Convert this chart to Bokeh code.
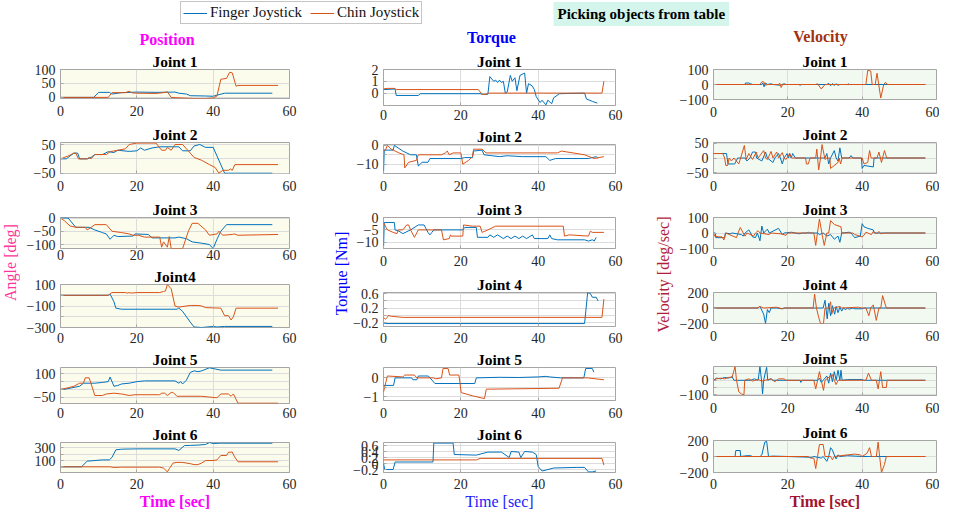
import math
from bokeh.plotting import figure
from bokeh.models import Range1d, FixedTicker, Label, Legend, LegendItem
from bokeh.layouts import column, row
from bokeh.embed import file_html
from bokeh.resources import INLINE

BLUE = "#0072BD"
ORANGE = "#D95319"
FONT = "Liberation Serif"
TICK_COLOR = "#262626"
GRID = "#dcdcdc"
BOX = "#a6a6a6"
LW = 1.0

TIME_TICKS = [0, 20, 40, 60]
TIME_LIMITS = (0, 60)
LEGEND_LABELS = ["Finger Joystick", "Chin Joystick"]

# ---------------- Position [deg] : (time, value) pairs ----------------
pos_j1_finger = [(0, 0), (8.7, 0), (10, 18), (12.8, 18), (13.5, 12), (16, 17), (20, 19), (25, 18), (30, 19),
                 (31, 15), (33, 12), (34, 6), (38, 5), (40, 4), (41, 8), (43, 15), (55.5, 15)]
pos_j1_chin = [(0, 0), (12.5, 0), (13.5, 17), (17, 17), (18, 22), (18.8, 16), (20, 15), (25, 14), (27, 17),
               (28, 20), (29, 0), (30, -1), (35, -4), (38, -4), (40, -2), (41, 5), (42, 65), (43.5, 68),
               (44.3, 90), (45, 88), (46, 40), (46.5, 43), (57, 43)]
pos_j2_finger = [(0, 0), (1.5, 0), (3.5, 20), (4.5, 20), (5, 0), (7, 0), (8, 5), (9, 15), (11, 15), (12.5, 25),
                 (14, 22), (15, 30), (18, 26), (20, 28), (21, 38), (22, 30), (24, 38), (26, 42), (31, 42),
                 (32, 28), (34, 28), (35, 45), (36.5, 50), (38, 40), (40, 40), (43, -50), (55.5, -50)]
pos_j2_chin = [(0, 0), (2, 10), (3.5, 20), (4, 20), (4.7, 0), (7, 0), (7.5, 5), (8, 0), (9, 15), (12, 15),
               (13, 25), (15, 30), (17, 35), (18, 50), (20, 55), (25, 55), (26.5, 30), (27.5, 30), (28, 40),
               (29, 30), (30, 50), (32, 50), (34, 20), (35, 5), (37, -5), (39, -20), (40.5, -30), (41.5, -50),
               (42.5, -40), (44, -40), (44.5, -35), (45, -40), (45.7, -20), (57, -20)]
pos_j3_finger = [(0, 0), (2, 0), (4, -35), (7.5, -35), (9, -45), (11, -55), (12, -60), (13, -80), (14, -65),
                 (15, -70), (19, -68), (19.5, -60), (23, -62), (24, -75), (30, -75), (31, -72), (33, -78),
                 (34.5, -90), (37, -95), (39, -100), (40, -115), (41, -80), (42, -50), (43.5, -25), (55.5, -25)]
pos_j3_chin = [(0, 0), (1, -10), (2.5, -30), (4, -35), (6.5, -35), (7, -45), (8, -35), (9, -25), (12, -25),
               (13.5, -50), (16, -55), (18, -60), (19, -65), (20.5, -65), (22, -72), (26, -72), (26.5, -110),
               (27, -90), (28, -110), (28.5, -70), (29, -115), (32, -115), (33.5, -50), (34.5, -20), (36, -20),
               (38, -45), (39, -65), (41, -60), (41.5, -50), (42.5, -65), (45, -62), (45.5, -60), (46.5, -65),
               (57, -62)]
pos_j4_finger = [(0, 0), (12.5, 0), (13, 10), (14, -60), (14.5, -120), (16, -130), (30.5, -130), (31, -120),
                 (32, -150), (34, -250), (35, -295), (37, -300), (40, -290), (41, -295), (43, -290), (55.5, -290)]
pos_j4_chin = [(0, 0), (12.5, 0), (13.5, 25), (17, 25), (17.5, 20), (18, 25), (18.5, 20), (20, 25), (26, 25),
               (27, 35), (27.5, 40), (28, 100), (29, 60), (30, -100), (31, -110), (34, -95), (36, -95),
               (37, -100), (38, -115), (42, -120), (43, -190), (44, -190), (44.7, -230), (45.3, -200),
               (46, -120), (57, -120)]
pos_j5_finger = [(0, 0), (1, 0), (3, 10), (5, 20), (6, 40), (9, 40), (11, 45), (12.5, 50), (13, 80), (14, 20),
                 (15, 25), (16, 35), (18, 40), (20, 50), (22, 55), (30, 55), (31, 40), (31.5, 50), (32, 35),
                 (33, 60), (34, 110), (35, 120), (36, 115), (37, 120), (39, 140), (41, 130), (42, 125), (55.5, 125)]
pos_j5_chin = [(0, 0), (2, 10), (3.5, 20), (5, 40), (6, 40), (6.5, 75), (7.5, 75), (9, -40), (11, -40),
               (12, -30), (14, -25), (16, -30), (18, -40), (19.5, -35), (26, -35), (26.5, -25), (27.3, -25),
               (28, -40), (29, -20), (29.5, -20), (30.5, -45), (37, -45), (39, -50), (41, -55), (42, -30),
               (44, -30), (44.7, -45), (45.3, -30), (46.5, -90), (57, -90)]
pos_j6_finger = [(0, 0), (5.5, 0), (7, 90), (9, 100), (11, 110), (12.8, 110), (13.5, 150), (14.5, 270), (16, 280),
                 (20, 285), (30, 285), (31, 260), (32.5, 338), (34, 340), (36, 345), (38, 355), (39, 385),
                 (40, 370), (42, 375), (55.5, 375)]
pos_j6_chin = [(0, 0), (13, 0), (14, -10), (16, -5), (26, -5), (27, -20), (28, -80), (28.5, -30), (29.5, 60),
               (30.5, 70), (32, 70), (34, 50), (35, 35), (36, 35), (37, 60), (38, 100), (40, 100), (41, 110),
               (42, 180), (43.5, 180), (44, 230), (45, 235), (45.5, 170), (46.5, 80), (57, 80)]

# ---------------- Torque [Nm] ----------------
tor_j1_finger = [(0, 0.3), (3, 0.35), (3.3, -0.2), (9, -0.2), (9.5, -0.05), (25, -0.05), (25.5, -0.1), (27, -0.1),
                 (27.5, 1.4), (28.5, 1.0), (29, 1.1), (29.5, 0.9), (30, 1.1), (30.5, 0.9), (31, 1.0), (31.5, 0),
                 (32, 0.1), (32.8, 1.5), (33.3, 1.0), (34, 1.3), (34.5, 0.2), (35.3, 1.5), (36.5, 1.7), (37, 0),
                 (37.5, 0.8), (38.5, 0.6), (39, 0.3), (39.5, -0.3), (40.5, -0.8), (41, -0.6), (42, -1.0),
                 (42.5, -0.6), (43.5, -0.9), (44, -0.4), (45.5, -0.05), (52, 0), (52.5, -0.5), (54, -0.7),
                 (55.3, -0.85)]
tor_j1_chin = [(0, 0.35), (1, 0.4), (3, 0.4), (3.3, 0.3), (24.5, 0.3), (25.5, -0.1), (26.5, -0.1), (27, 0),
               (56.5, 0), (57, 1.0)]
tor_j2_finger = [(0, -15), (0.2, -2.5), (2.5, -2.5), (2.8, 0), (5, -3), (7, -5), (8.5, -5), (9, -11), (10, -9),
                 (11.5, -9), (12, -7), (20, -7), (21, -6.5), (23, -6.5), (23.3, -3), (25.5, -2.5), (26, -5),
                 (28, -5.5), (30, -6), (32, -5.5), (36, -6), (42, -6), (43, -8), (44.5, -7), (53, -7), (55, -6),
                 (55.5, -7)]
tor_j2_chin = [(0, -2.5), (0.5, -2.5), (1, 0), (2, -2), (4, -4), (5.3, -5), (5.5, -12), (6.5, -9), (8.5, -8),
               (9, -5), (15, -5), (16, -4), (16.5, -3), (17, -5), (18, -4), (20, -4), (20.5, -10), (22, -8),
               (23, -6), (23.3, -2), (25.5, -2), (26.5, -4), (45, -4), (46, -3), (52, -5), (54.5, -7), (57, -6)]
tor_j3_finger = [(0, -12.5), (0.2, -2), (2.8, -2), (3, -5), (4, -5.5), (5, -6.5), (7, -5), (9, -3), (10.5, -3),
                 (11.5, -6), (12, -7), (12.5, -6), (13, -5), (20.5, -5), (21, -4), (24, -4), (24.3, -8), (27, -8),
                 (27.5, -7), (28.5, -8), (29.5, -7), (31, -8.5), (32, -7.5), (33, -8.5), (34, -7.5), (35, -8.5),
                 (36, -7.5), (37, -8.5), (38.5, -7), (39, -8.5), (42.5, -8.5), (43, -7), (43.5, -8.5), (45, -9),
                 (52, -9), (53, -9.5), (54, -9), (54.5, -9.5), (55, -8)]
tor_j3_chin = [(0, -2), (0.5, -3.5), (1, -5), (2.5, -6), (3.5, -6.5), (3.8, -5), (5, -5), (6, -3), (6.5, -3),
               (7, -5), (8, -8), (9, -5), (15, -5), (15.5, -9), (17, -8.5), (17.3, -7), (17.5, -7.5), (20.5, -7.5),
               (20.7, -3), (23, -3.5), (25, -3.5), (25.5, -6), (27, -5), (29, -3.5), (46.5, -3.5), (46.8, -7.5),
               (48, -7), (53, -7.5), (53.5, -5.5), (54, -6), (57, -6)]
tor_j4_finger = [(0, -0.2), (0.5, -0.22), (52, -0.22), (52.8, 0.63), (53.5, 0.6), (54, 0.5), (55, 0.5), (55.5, 0.4)]
tor_j4_chin = [(0, -0.05), (0.5, -0.1), (1, -0.05), (1.2, 0), (2, -0.02), (5, -0.05), (56.5, -0.05), (57, 0.45)]
tor_j5_finger = [(0, -0.4), (2.6, -0.4), (3, 0), (7.3, 0), (7.6, -0.1), (8.6, -0.1), (9, 0.1), (11.6, 0.1),
                 (13.3, -0.3), (23.6, -0.3), (24, 0), (30, 0.03), (35, 0.02), (40, 0.05), (42, 0.08), (43, 0.05),
                 (45.8, 0), (51.8, 0), (52.3, 0.5), (54, 0.5), (54.4, 0.3)]
tor_j5_chin = [(0, -0.75), (1, 0.1), (5, 0.05), (5.5, 0.15), (8, 0.15), (8.6, 0), (12.9, 0), (13.5, -0.05),
               (15, 0), (15.4, 0.5), (16.7, 0.5), (17.1, 0.15), (19.5, 0.15), (20.1, -0.78), (23, -0.95),
               (26.1, -1.1), (26.6, -0.6), (45.4, -0.55), (46.3, 0), (52.7, 0), (57, -0.1)]
tor_j6_finger = [(0, 0.01), (0.3, -0.2), (2.5, -0.2), (3, 0.05), (12.8, 0.05), (13, 0.68), (18, 0.68), (18.3, 0.3),
                 (24, 0.28), (27, 0.38), (30.5, 0.38), (32.5, 0.2), (33, 0.4), (35, 0.38), (35.5, 0.2), (36.5, 0.4),
                 (38.5, 0.38), (39.5, 0.3), (40, -0.1), (41, -0.25), (42, -0.22), (44, -0.15), (50, -0.13),
                 (52, -0.13), (53, -0.28), (54, -0.28), (55, -0.25)]
tor_j6_chin = [(0, 0.12), (24, 0.12), (25, 0.17), (56.5, 0.17), (57, -0.05)]

# ---------------- Velocity [deg/sec] ----------------
vel_j1_finger = [(0, 0), (8.5, 0), (8.6, 10), (9.5, 10), (10, 5), (10.5, 0), (13, 0), (13.3, 10), (13.6, -15),
                 (14, 10), (14.5, 0), (15.5, 5), (16, 0), (18, -5), (19, 5), (19.5, 0), (23, 0), (23.3, -5),
                 (23.6, 0), (30.5, 0), (31, 8), (31.5, -8), (32, 6), (32.5, -6), (33, 5), (33.5, -5), (34, 0),
                 (36, 0), (36.3, 4), (36.6, 0), (57, 0)]
vel_j1_chin = [(0, 0), (12.5, 0), (13, 18), (13.5, 18), (14, -5), (14.5, 0), (17.5, 0), (17.8, 10), (18.2, -20),
               (18.6, 0), (27.5, 0), (28, 5), (29, -30), (30, 0), (41, 0), (41.5, 95), (42.3, 90), (42.7, 0),
               (43.5, 0), (44, 75), (45, -90), (45.8, 0), (46.3, 15), (46.8, 0), (57, 0)]
vel_j2_finger = [(0, 15), (3.5, 15), (3.9, -20), (5.7, -20), (6.5, 0), (8.5, 0), (9, -10), (9.8, 0), (10.5, 20),
                 (11.3, 20), (11.6, 0), (13, -10), (14, 20), (14.5, 0), (16, -15), (16.5, 0), (17.5, 15), (18, 0),
                 (18.5, -20), (19, 0), (19.8, 15), (20.2, 0), (20.5, 15), (20.9, 0), (21.3, 15), (22, 0), (30, 0),
                 (30.5, 15), (31, -20), (31.5, 0), (32.5, 25), (33, 0), (33.5, -10), (34, 34), (34.5, 0),
                 (36.5, 0), (37, 8), (37.5, 0), (39.8, 0), (40, -35), (40.5, -25), (43, -30), (43.2, 0), (57, 0)]
vel_j2_chin = [(0, 15), (2.5, 15), (3, 0), (3.3, -25), (3.8, -25), (4.2, 0), (4.8, -10), (5.5, 0), (6.8, -20),
               (7.3, 0), (8.3, 42), (8.8, -5), (9.5, 15), (10.5, -5), (11.5, 20), (12, 0), (13.5, 25), (14, 0),
               (14.5, -5), (15.5, 22), (16, 0), (17, 20), (17.5, 0), (18.5, 18), (19, 0), (19.5, -5), (20.5, 15),
               (21, 0), (24.8, 0), (25, -20), (25.5, -20), (26, 0), (27.5, 0), (27.8, 30), (28.3, -40), (28.8, 0),
               (29.2, 45), (30, -5), (30.5, 0), (31.3, 0), (31.5, -35), (33.5, -15), (33.8, 0), (34.2, -20),
               (34.6, 0), (40, 0), (40.5, -20), (41.5, -15), (42, 25), (42.4, 0), (44, 0), (44.5, 20),
               (45.2, -15), (46, 25), (46.6, 0), (57, 0)]
vel_j3_finger = [(0, 0), (0.5, 0), (0.6, -30), (3, -30), (3.2, 0), (4.5, -5), (5, 0), (7.5, -10), (8, -20),
                 (8.5, 0), (9.5, 20), (10, 0), (10.5, -25), (11.3, -30), (11.8, 0), (12.5, -50), (13, 45),
                 (13.5, 0), (14.5, 25), (15, 0), (17.5, 30), (18.5, -10), (19, 0), (21, 5), (23, -5), (24, 0),
                 (28, 0), (28.5, -10), (29.5, 0), (30.5, -20), (31.5, -10), (32.5, -40), (33.5, -20), (34, -60),
                 (34.5, 0), (36.5, 5), (37, 0), (38, -30), (39.5, -20), (40, 60), (40.5, 40), (41.5, 30),
                 (43, 20), (43.2, 0), (57, 0)]
vel_j3_chin = [(0, 0), (0.3, -20), (1.5, -25), (2.3, -25), (2.8, -45), (3.3, 0), (6.2, -30), (6.6, 0), (7.2, 35),
               (8, 0), (8.5, -20), (9, 0), (10.8, -20), (11.3, 0), (12, 15), (12.5, 0), (15, -10), (15.5, 0),
               (18, -5), (19.5, -15), (20, 0), (25, 0), (25.5, 5), (26, 0), (27, 0), (27.5, -80), (28.5, 90),
               (29.3, -20), (29.8, -80), (30.5, 0), (31, 0), (31.5, 80), (32.5, 55), (34.3, 40), (34.5, 0),
               (37.5, 0), (38, -10), (40, -25), (40.3, -20), (41, 5), (42.5, -10), (43, 10), (44, -5),
               (44.5, 10), (45, -5), (46, 0), (57, 0)]
vel_j4_finger = [(0, 0), (12, 0), (12.5, 20), (13.5, -80), (14, -200), (14.5, -20), (15, -60), (15.5, 0), (17, 0),
                 (18.5, -10), (19, 0), (29.5, 0), (30, 100), (30.6, -140), (31, 60), (31.5, -100), (32, 30),
                 (32.6, -80), (33, 20), (33.5, -60), (34, 10), (34.5, -40), (35, 5), (35.5, -25), (36, 0),
                 (36.5, -15), (37.5, 0), (38, -10), (40, -10), (40.5, 0), (57, 0)]
vel_j4_chin = [(0, 0), (12, 0), (12.3, 20), (13, 10), (13.5, 0), (17, 10), (18.5, -10), (19, 0), (25.5, 0),
               (26, 5), (26.8, -5), (27.2, 180), (27.7, 0), (28.3, -120), (28.8, -200), (29.6, -200), (30, 0),
               (31, 0), (31.5, 80), (31.8, -80), (32.3, 0), (34, 20), (34.5, 0), (39, 10), (40, 0), (41, 0),
               (41.8, -100), (42.3, 0), (43, 40), (43.8, -160), (44.5, 0), (45, 0), (45.5, 160), (46.5, 0), (57, 0)]
vel_j5_finger = [(0, 0), (0.8, 15), (2, 10), (3, 20), (4, 15), (5, 25), (5.5, 0), (10, 0), (11, 10), (12, 0),
                 (12.5, 96), (13, -20), (13.2, -95), (13.5, 0), (14, 60), (14.3, 90), (14.6, 0), (15.5, 10),
                 (16, 0), (23.3, 0), (23.5, -15), (23.8, 0), (28, 0), (28.5, 15), (29, -15), (29.5, 0), (30.5, 30),
                 (31, -20), (31.5, 50), (32, -10), (32.5, 60), (33, 0), (33.5, 70), (34, 0), (34.3, 70),
                 (34.6, 0), (36, 5), (40, 5), (40.5, 0), (57, 0)]
vel_j5_chin = [(0, 0), (0.8, 10), (2, 15), (3, 10), (4, 20), (5, 20), (5.8, 96), (6.2, 0), (6.8, -80), (7.5, -95),
               (8.2, -100), (8.4, 0), (9.5, 10), (10.5, -5), (12, 5), (13, -5), (15.5, 10), (16.5, -10),
               (17.5, 10), (19, 10), (19.5, 0), (27, 0), (27.5, -60), (28, 0), (28.5, 60), (29, 0), (29.6, -70),
               (30, 0), (32, 40), (32.5, 0), (33, -30), (33.5, 0), (41, 0), (41.7, 50), (42.5, 0), (43.8, 0),
               (44.3, -60), (45, 60), (45.5, -50), (46.5, -50), (46.7, 0), (57, 0)]
vel_j6_finger = [(0, 0), (5.8, 0), (6, 75), (7.2, 75), (7.3, 0), (9, 10), (10, 10), (10.5, 0), (12.5, 0), (13, 20),
                 (13.8, 180), (14.3, 190), (14.8, 0), (16, 5), (20, 0), (26.5, -10), (27, 0), (29, -20),
                 (29.5, 0), (30.5, -60), (31, 0), (31.5, 110), (32, 80), (32.5, 20), (33, -30), (33.5, 20),
                 (34, 0), (36, 10), (40, 0), (42, 0), (57, 0)]
vel_j6_chin = [(0, 0), (25.5, 0), (26, -20), (27, -20), (27.5, -150), (28, 0), (28.5, 150), (29.5, 150), (30, 0),
               (31.5, 0), (32, -40), (32.5, 0), (36, 20), (38, 30), (39.5, 20), (40, 0), (41.3, 40), (42, 110),
               (42.5, 0), (43.8, 0), (44.3, 180), (44.7, 0), (45.2, -200), (46, -100), (46.5, 0), (57, 0)]

# ---------------- axis limits and ticks ----------------
pos_titles = ["Joint 1", "Joint 2", "Joint 3", "Joint4", "Joint 5", "Joint 6"]
tor_titles = ["Joint 1", "Joint 2", "Joint 3", "Joint 4", "Joint 5", "Joint 6"]
vel_titles = ["Joint 1", "Joint 2", "Joint 3", "Joint 4", "Joint 5", "Joint 6"]

pos_limits = [(-4, 100), (-51, 57), (-115, 2), (-300, 100), (-92, 142), (-90, 386)]
pos_ticks = [[0, 50, 100], [-50, 0, 50], [-100, -50, 0], [-300, -100, 100], [-50, 100], [100, 300]]
pos_minor = [[], [], [], [-200, 0], [0, 50], [0, 200]]

tor_limits = [(-1.05, 2), (-15, 0.5), (-12.5, 0), (-0.3, 0.63), (-1.2, 0.55), (-0.3, 0.7)]
tor_ticks = [[0, 1, 2], [-10, 0], [-10, -5, 0], [-0.2, 0.2, 0.6], [-1, 0], [-0.2, 0, 0.2, 0.4, 0.6]]
tor_minor = [[], [-5], [], [0, 0.4], [-0.5], []]

vel_limits = [(-100, 100), (-52, 52), (-100, 100), (-200, 200), (-106, 96), (-200, 200)]
vel_ticks = [[-100, 0, 100], [-50, 0, 50], [-100, 0, 100], [-200, 0, 200], [-100, 0], [-200, 0, 200]]
vel_minor = [[], [], [], [], [-50, 50], []]

pos_series = [(pos_j1_finger, pos_j1_chin), (pos_j2_finger, pos_j2_chin), (pos_j3_finger, pos_j3_chin),
              (pos_j4_finger, pos_j4_chin), (pos_j5_finger, pos_j5_chin), (pos_j6_finger, pos_j6_chin)]
tor_series = [(tor_j1_finger, tor_j1_chin), (tor_j2_finger, tor_j2_chin), (tor_j3_finger, tor_j3_chin),
              (tor_j4_finger, tor_j4_chin), (tor_j5_finger, tor_j5_chin), (tor_j6_finger, tor_j6_chin)]
vel_series = [(vel_j1_finger, vel_j1_chin), (vel_j2_finger, vel_j2_chin), (vel_j3_finger, vel_j3_chin),
              (vel_j4_finger, vel_j4_chin), (vel_j5_finger, vel_j5_chin), (vel_j6_finger, vel_j6_chin)]


def xy(points):
    return [p[0] for p in points], [p[1] for p in points]


def subplot(title, finger, chin, ylim, yticks, yminor, bg, width, height, left, right, top, bottom,
            xstand=6, xlabel=None, xlabel_color=None, xlabel_style="normal"):
    p = figure(width=width, height=height, x_range=Range1d(*TIME_LIMITS), y_range=Range1d(*ylim),
               output_backend="svg", toolbar_location=None,
               min_border_left=left, min_border_right=right, min_border_top=top, min_border_bottom=bottom,
               background_fill_color=bg, border_fill_color="white", outline_line_color=BOX, title=title)
    p.title.align = "center"
    p.title.text_font = FONT
    p.title.text_font_size = "15.5px"
    p.title.text_font_style = "bold"
    p.title.text_color = "#000000"
    p.title.standoff = 0
    p.xaxis.ticker = FixedTicker(ticks=TIME_TICKS)
    p.yaxis.ticker = FixedTicker(ticks=yticks, minor_ticks=yminor)
    p.axis.major_label_text_font = FONT
    p.axis.major_label_text_font_size = "14px"
    p.axis.major_label_text_color = TICK_COLOR
    p.axis.axis_line_color = None
    p.axis.major_tick_line_color = BOX
    p.axis.major_tick_in = 3
    p.axis.major_tick_out = 0
    p.axis.minor_tick_line_color = BOX
    p.axis.minor_tick_in = 3
    p.axis.minor_tick_out = 0
    p.xaxis.major_label_standoff = xstand
    p.yaxis.major_label_standoff = 5
    if 0 in yticks and any(isinstance(t, float) for t in yticks):
        p.yaxis.major_label_overrides = {0: "0"}
    p.xgrid.grid_line_color = GRID
    p.ygrid.grid_line_color = GRID
    if yminor:
        p.ygrid.minor_grid_line_color = GRID
    fx, fy = xy(finger)
    cx, cy = xy(chin)
    p.line(fx, fy, color=BLUE, line_width=LW)
    p.line(cx, cy, color=ORANGE, line_width=LW)
    if xlabel:
        p.xaxis.axis_label = xlabel
        p.xaxis.axis_label_text_font = FONT
        p.xaxis.axis_label_text_font_size = "16px"
        p.xaxis.axis_label_text_font_style = xlabel_style
        p.xaxis.axis_label_text_color = xlabel_color
        p.xaxis.axis_label_standoff = 1
    return p


def ylabel_fig(width, height, text, color, x, y):
    p = figure(width=width, height=height, x_range=Range1d(0, 1), y_range=Range1d(0, 1),
               output_backend="svg", toolbar_location=None, min_border=0,
               x_axis_type=None, y_axis_type=None, outline_line_color=None)
    p.add_layout(Label(x=x, y=y, x_units="screen", y_units="screen", text=text, angle=math.pi / 2,
                       text_align="center", text_baseline="middle", text_font=FONT,
                       text_font_size="16px", text_color=color))
    return p


HDR_H = 50
BODY_H = 463

# layout per column: band heights, top/bottom borders and tick standoffs
col_specs = [
    dict(titles=pos_titles, series=pos_series, limits=pos_limits, ticks=pos_ticks, minor=pos_minor,
         bg="#fcfcec", width=306, left=40, right=37,
         heights=[73, 75, 67, 83, 75, 90], tops=[18, 19, 19, 16, 17, 17], bottoms=[25, 25, 17, 21, 20, 41],
         stand=[7, 7, 1, 5, 4, 6], xlabel_color="#FF00FF", xlabel_style="bold"),
    dict(titles=tor_titles, series=tor_series, limits=tor_limits, ticks=tor_ticks, minor=tor_minor,
         bg="#ffffff", width=302, left=33, right=37,
         heights=[75, 73, 75, 75, 75, 90], tops=[18, 17, 19, 19, 17, 17], bottoms=[20, 25, 25, 22, 23, 41],
         stand=[4, 7, 7, 6, 7, 6], xlabel_color="#1a1aff", xlabel_style="normal"),
    dict(titles=vel_titles, series=vel_series, limits=vel_limits, ticks=vel_ticks, minor=vel_minor,
         bg="#f1f9f0", width=263, left=36, right=3,
         heights=[73, 75, 75, 74, 74, 92], tops=[18, 19, 19, 19, 18, 19], bottoms=[24, 25, 25, 24, 26, 41],
         stand=[7, 7, 7, 7, 7, 6], xlabel_color="#A2142F", xlabel_style="bold"),
]

columns = []
for spec in col_specs:
    figs = []
    for i in range(6):
        last = i == 5
        f, c = spec["series"][i]
        figs.append(subplot(spec["titles"][i], f, c, spec["limits"][i], spec["ticks"][i], spec["minor"][i],
                            spec["bg"], spec["width"], spec["heights"][i], spec["left"], spec["right"],
                            spec["tops"][i], spec["bottoms"][i], xstand=spec["stand"][i],
                            xlabel="Time [sec]" if last else None, xlabel_color=spec["xlabel_color"],
                            xlabel_style=spec["xlabel_style"]))
    columns.append(column(*figs))

yl1 = ylabel_fig(20, BODY_H, "Angle [deg]", "#FF3399", 9.5, 251)
yl2 = ylabel_fig(24, BODY_H, "Torque [Nm]", "#0000FF", 15, 240)
yl3 = ylabel_fig(24, BODY_H, "Velocity [deg/sec]", "#B01E3C", 10.5, 239)

# ---------------- header: legend, task label, column titles ----------------
NAN = float("nan")
hdr = figure(width=939, height=HDR_H, x_range=Range1d(0, 1), y_range=Range1d(0, 1),
             output_backend="svg", toolbar_location=None, min_border=0,
             x_axis_type=None, y_axis_type=None, outline_line_color=None)
r_f = hdr.line(x=[NAN], y=[NAN], color=BLUE, line_width=LW)
r_c = hdr.line(x=[NAN], y=[NAN], color=ORANGE, line_width=LW)
legend = Legend(items=[LegendItem(label=LEGEND_LABELS[0], renderers=[r_f]),
                       LegendItem(label=LEGEND_LABELS[1], renderers=[r_c])],
                location=(180, 26), orientation="horizontal", label_text_font=FONT,
                label_text_font_size="15px", label_text_color="#111111", glyph_width=24, glyph_height=12,
                label_height=12, label_standoff=3, spacing=8, padding=2, margin=0,
                border_line_color="#8c8c8c", border_line_width=1, background_fill_color="white",
                background_fill_alpha=1.0)
hdr.add_layout(legend)
hdr.add_layout(Label(x=553, y=HDR_H - 13.5, x_units="screen", y_units="screen",
                     text="Picking objects from table", text_font=FONT, text_font_size="15px",
                     text_font_style="bold", text_color="#000000", text_align="left", text_baseline="middle",
                     background_fill_color="#d4f5eb", padding=4))
for txt, x, y, colr in [("Position", 166.5, 11, "#FF00FF"), ("Torque", 491, 13, "#0000FF"),
                        ("Velocity", 820, 14, "#A3320F")]:
    hdr.add_layout(Label(x=x, y=y, x_units="screen", y_units="screen", text=txt, text_font=FONT,
                         text_font_size="16px", text_font_style="bold", text_color=colr,
                         text_align="center", text_baseline="middle"))

body = row(yl1, columns[0], yl2, columns[1], yl3, columns[2])
root = column(hdr, body)

open("out.html", "w").write(file_html(root, INLINE))
